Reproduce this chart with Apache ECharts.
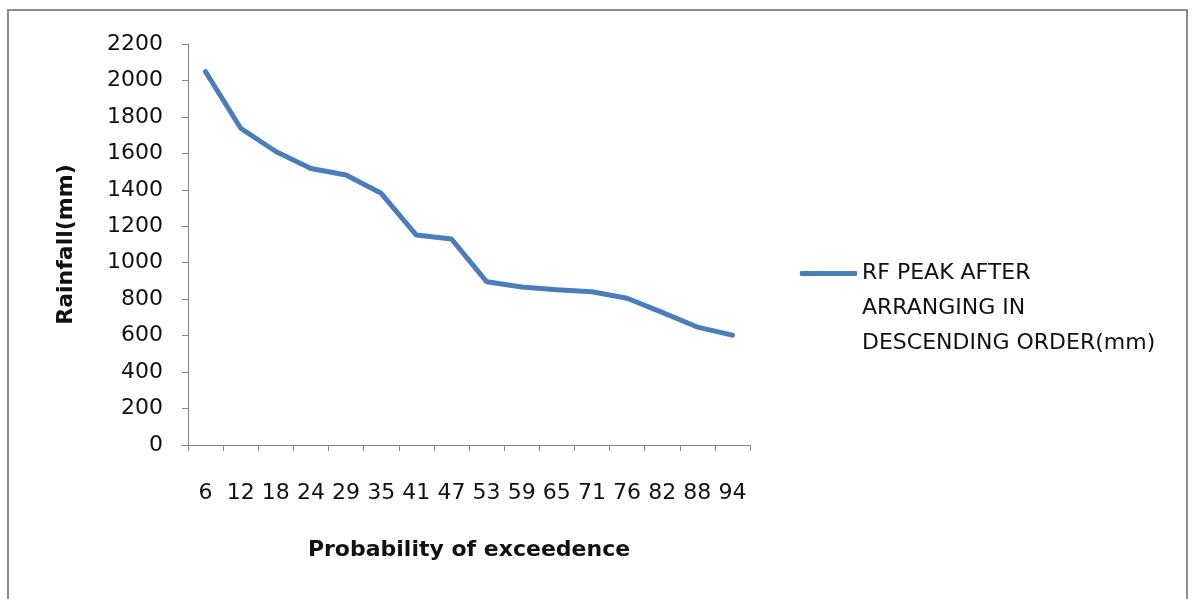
<!DOCTYPE html>
<html>
<head>
<meta charset="utf-8">
<script src="https://cdn.jsdelivr.net/npm/echarts@6/dist/echarts.min.js"></script>
<style>
html,body{margin:0;padding:0;background:#fff;}
#chart{width:1194px;height:599px;}
</style>
</head>
<body>
<div id="chart"></div>
<script>
var categories = ['6','12','18','24','29','35','41','47','53','59','65','71','76','82','88','94'];
var rainfall = [2048, 1738, 1610, 1517, 1481, 1381, 1152, 1130, 896, 867, 852, 841, 805, 728, 647, 603];
var seriesName = 'RF PEAK AFTER\nARRANGING IN\nDESCENDING ORDER(mm)';
var xTitle = 'Probability of exceedence';
var yTitle = 'Rainfall(mm)';

var font = '"DejaVu Sans", "Liberation Sans", sans-serif';
var chart = echarts.init(document.getElementById('chart'));
chart.setOption({
  animation: false,
  backgroundColor: '#fff',
  grid: {left: 188, right: 444, top: 44, bottom: 154, containLabel: false},
  graphic: [{
    type: 'rect', silent: true,
    shape: {x: 8, y: 10, width: 1179, height: 610},
    style: {fill: 'none', stroke: '#8c8c8c', lineWidth: 2}
  }],
  legend: {
    left: 795, top: 181,
    icon: 'roundRect',
    itemWidth: 57, itemHeight: 5,
    data: [seriesName],
    formatter: function (name) { return '\n\n' + name; },
    textStyle: {fontFamily: font, fontSize: 22, color: '#111', lineHeight: 35}
  },
  xAxis: {
    type: 'category',
    data: categories,
    boundaryGap: true,
    name: xTitle,
    nameLocation: 'middle',
    nameGap: 94,
    nameTextStyle: {fontFamily: font, fontSize: 22, fontWeight: 'bold', color: '#111'},
    axisLine: {lineStyle: {color: '#868686', width: 1}},
    axisTick: {show: true, alignWithLabel: false, length: 6, lineStyle: {color: '#868686'}},
    axisLabel: {fontFamily: font, fontSize: 22, color: '#111', margin: 37, interval: 0},
    splitLine: {show: false}
  },
  yAxis: {
    type: 'value',
    min: 0, max: 2200, interval: 200,
    name: yTitle,
    nameLocation: 'middle',
    nameGap: 111,
    nameRotate: 90,
    nameTextStyle: {fontFamily: font, fontSize: 22, fontWeight: 'bold', color: '#111'},
    axisLine: {show: true, lineStyle: {color: '#868686', width: 1}},
    axisTick: {show: true, length: 6, lineStyle: {color: '#868686'}},
    axisLabel: {fontFamily: font, fontSize: 22, color: '#111', margin: 25,
      formatter: function (v) { return String(v); }},
    splitLine: {show: false}
  },
  series: [{
    name: seriesName,
    type: 'line',
    data: rainfall,
    symbol: 'none',
    lineStyle: {color: '#4A7EBB', width: 5, cap: 'round', join: 'round'},
    itemStyle: {color: '#4A7EBB'}
  }]
});
</script>
</body>
</html>
